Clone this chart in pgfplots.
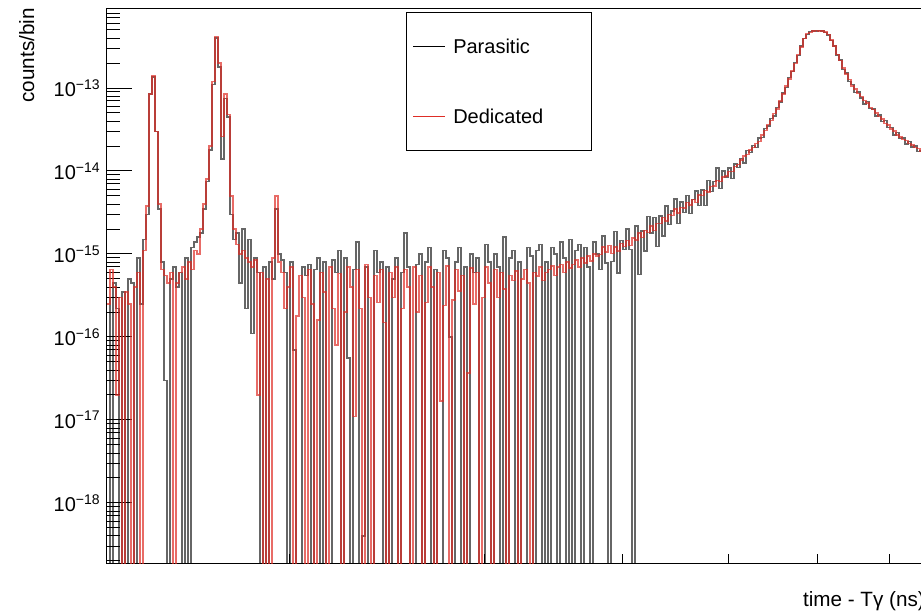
\documentclass[border=0pt]{standalone}
\usepackage{fontspec}
\setmainfont{Liberation Sans}
\usepackage{pgfplots}
\pgfplotsset{compat=1.18}
\usepackage{pgfplotstable}
\definecolor{parcol}{RGB}{0,0,0}
\definecolor{dedcol}{RGB}{222,45,38}
\newcommand\sx[1]{\raisebox{0.37em}{\fontsize{10.5}{12}\selectfont #1}}
\pgfplotstableread{
i P D
0 3.0e-16 2.5e-16
1 1e-22 6.5e-16
2 4.5e-16 4e-16
3 2.2e-16 2e-17
4 1e-22 3e-16
5 3.5e-16 1e-22
6 1e-22 3.5e-16
7 5e-16 2.5e-16
8 4.5e-16 1e-22
9 1e-22 4e-16
10 9e-16 6e-16
11 2.5e-16 1e-22
12 1.5e-15 1.1e-15
13 3.0e-15 3.8e-15
14 8.5e-14 8.5e-14
15 1.35e-13 1.4e-13
16 3.0e-14 3.0e-14
17 3.5e-15 4.0e-15
18 8e-16 6.5e-16
19 3e-17 5.5e-16
20 1e-22 4.5e-16
21 5e-16 6e-16
22 7e-16 1e-22
23 4e-16 4.5e-16
24 6e-16 6e-16
25 1e-22 7e-16
26 9e-16 5e-16
27 1e-22 8e-16
28 1.2e-15 6.5e-16
29 1.4e-15 1.1e-15
30 1.6e-15 1.0e-15
31 1.8e-15 2.0e-15
32 3.5e-15 4.0e-15
33 7.5e-15 8e-15
34 1.8e-14 2.0e-14
35 1.1e-13 1.2e-13
36 4.0e-13 4.2e-13
37 1.8e-13 2.0e-13
38 1.4e-14 2.6e-14
39 7.5e-14 8.5e-14
40 4.5e-14 4.8e-14
41 3.0e-15 5e-15
42 1.5e-15 2.0e-15
43 1.8e-15 1.3e-15
44 4.5e-16 1.0e-15
45 2.0e-15 1.1e-15
46 2.2e-16 9e-16
47 1.5e-15 8e-16
48 1.1e-16 7e-16
49 9e-16 8.5e-16
50 6e-16 2e-17
51 1e-22 6e-16
52 7e-16 1e-22
53 1e-22 5e-16
54 8e-16 1e-22
55 5e-16 9e-16
56 3.5e-15 5e-15
57 1.0e-15 8e-16
58 8.5e-16 6e-16
59 6e-16 2.2e-16
60 1e-22 4e-16
61 8e-16 7e-16
62 7e-17 1e-22
63 1e-22 1.8e-16
64 1e-22 5.5e-16
65 7e-16 3e-16
66 5.5e-16 1e-22
67 7.5e-16 6.5e-16
68 1e-22 2.5e-16
69 6.5e-16 1e-22
70 9e-16 1.6e-16
71 1e-22 6e-16
72 8e-16 3.5e-16
73 1e-22 1e-22
74 1e-22 7e-16
75 8.5e-16 2.2e-16
76 6e-16 8e-17
77 1.1e-15 5.8e-16
78 1e-22 1e-22
79 9e-16 2e-16
80 5.6e-17 7e-16
81 1e-22 4e-16
82 6.5e-16 1.1e-17
83 1.4e-15 6.5e-16
84 1e-22 2.2e-16
85 4e-19 1e-22
86 7e-16 7.5e-16
87 1e-22 3e-16
88 1e-22 1e-22
89 1.1e-15 5.5e-16
90 6e-16 2.6e-16
91 8e-16 6.5e-16
92 1e-22 1.5e-16
93 7e-16 1e-22
94 1e-22 6e-16
95 5e-16 3e-16
96 9e-16 7e-16
97 1e-22 1e-22
98 6e-16 2.2e-16
99 1.8e-15 6.5e-16
100 7e-16 4e-16
101 1e-22 1e-22
102 1e-22 7e-16
103 7.5e-16 2e-16
104 1.0e-15 5.5e-16
105 1e-22 1e-22
106 8e-16 2.6e-16
107 1.2e-15 7e-16
108 1e-22 4e-16
109 6.5e-16 1e-22
110 1e-22 6e-16
111 1e-22 1.7e-17
112 1.1e-15 2.4e-16
113 9e-16 7.2e-16
114 1e-16 1e-22
115 1e-22 2.8e-16
116 8e-16 6.5e-16
117 1.2e-15 3.6e-16
118 1e-22 5.5e-16
119 7e-16 1e-22
120 1e-22 3.7e-17
121 1.0e-15 6.8e-16
122 6e-16 2.5e-16
123 9e-16 6e-16
124 1e-22 1e-22
125 1e-22 3e-16
126 1.3e-15 7e-16
127 8e-16 4.5e-16
128 1e-22 1e-22
129 1.0e-15 6.5e-16
130 7e-16 3e-16
131 1e-22 6e-16
132 1.6e-15 3.8e-16
133 1e-22 1e-22
134 9e-16 5.5e-16
135 1.1e-15 4.8e-16
136 1e-22 6.2e-16
137 8e-16 1e-22
138 1e-22 5e-16
139 1e-22 6.5e-16
140 1.2e-15 4.5e-16
141 9.5e-16 1e-22
142 1e-22 6e-16
143 1.1e-15 5.4e-16
144 1.3e-15 7e-16
145 1e-22 4.8e-16
146 8e-16 6e-16
147 1e-22 6.5e-16
148 1.2e-15 7.2e-16
149 1.0e-15 5.5e-16
150 1e-22 7e-16
151 1.4e-15 7.5e-16
152 9e-16 6e-16
153 1e-22 8e-16
154 1.5e-15 6.8e-16
155 1e-22 7.5e-16
156 1.1e-15 8.5e-16
157 1.3e-15 7e-16
158 1e-22 9e-16
159 1.2e-15 7.8e-16
160 7e-16 9.5e-16
161 1e-22 8.2e-16
162 1.4e-15 1.0e-15
163 1.0e-15 9.4e-16
164 6.5e-16 9.8e-16
165 1.65e-15 1.21e-15
166 7.8e-16 1.06e-15
167 1e-22 1.27e-15
168 8.1e-16 1.01e-15
169 1.86e-15 1.22e-15
170 5.9e-16 1.09e-15
171 1.45e-15 1.33e-15
172 1.14e-15 1.23e-15
173 2.0e-15 1.45e-15
174 1.13e-15 1.27e-15
175 1e-22 1.55e-15
176 2.18e-15 1.48e-15
177 5.7e-16 1.79e-15
178 1.89e-15 1.58e-15
179 1.08e-15 1.91e-15
180 2.85e-15 1.82e-15
181 1.8e-15 2.18e-15
182 2.76e-15 1.93e-15
183 1.24e-15 2.34e-15
184 2.87e-15 2.32e-15
185 1.65e-15 2.74e-15
186 3.77e-15 2.5e-15
187 2.27e-15 2.98e-15
188 3.29e-15 2.93e-15
189 4.57e-15 3.47e-15
190 2.33e-15 3.13e-15
191 4.21e-15 3.62e-15
192 3.15e-15 3.59e-15
193 5.07e-15 4.17e-15
194 3.08e-15 3.9e-15
195 4.56e-15 4.51e-15
196 5.71e-15 4.2e-15
197 3.86e-15 5.11e-15
198 5.92e-15 5.05e-15
199 3.86e-15 5.79e-15
200 7.67e-15 5.55e-15
201 5.68e-15 6.5e-15
202 7.44e-15 6.56e-15
203 1.08e-14 7.66e-15
204 6.19e-15 7.43e-15
205 9.94e-15 8.45e-15
206 8.43e-15 8.69e-15
207 1.09e-14 9.89e-15
208 8.16e-15 9.89e-15
209 1.22e-14 1.13e-14
210 1.1e-14 1.2e-14
211 1.41e-14 1.35e-14
212 1.25e-14 1.51e-14
213 1.77e-14 1.58e-14
214 1.67e-14 1.8e-14
215 2.03e-14 1.91e-14
216 1.91e-14 2.14e-14
217 2.51e-14 2.27e-14
218 2.54e-14 2.72e-14
219 3.24e-14 3.06e-14
220 3.47e-14 3.62e-14
221 4.32e-14 4.07e-14
222 4.62e-14 4.91e-14
223 5.79e-14 5.56e-14
224 6.78e-14 6.99e-14
225 8.7e-14 8.44e-14
226 1.02e-13 1.06e-13
227 1.33e-13 1.28e-13
228 1.57e-13 1.61e-13
229 2.02e-13 1.98e-13
230 2.46e-13 2.54e-13
231 3.21e-13 3.12e-13
232 3.95e-13 3.95e-13
233 4.43e-13 4.51e-13
234 4.78e-13 4.68e-13
235 4.84e-13 4.89e-13
236 4.85e-13 4.9e-13
237 4.95e-13 4.85e-13
238 4.84e-13 4.89e-13
239 4.68e-13 4.73e-13
240 4.37e-13 4.41e-13
241 3.72e-13 3.8e-13
242 3.22e-13 3.19e-13
243 2.5e-13 2.55e-13
244 2.17e-13 2.13e-13
245 1.67e-13 1.74e-13
246 1.51e-13 1.47e-13
247 1.19e-13 1.26e-13
248 1.1e-13 1.06e-13
249 8.84e-14 9.7e-14
250 8.91e-14 8.56e-14
251 7.61e-14 7.93e-14
252 6.43e-14 7.07e-14
253 6.83e-14 6.63e-14
254 5.7e-14 5.82e-14
255 5.6e-14 5.49e-14
256 4.58e-14 4.98e-14
257 4.74e-14 4.51e-14
258 3.96e-14 4.25e-14
259 4.07e-14 3.76e-14
260 3.32e-14 3.57e-14
261 3.32e-14 3.22e-14
262 2.72e-14 3.05e-14
263 2.89e-14 2.7e-14
264 2.45e-14 2.58e-14
265 2.49e-14 2.4e-14
266 2.11e-14 2.34e-14
267 2.26e-14 2.13e-14
268 1.95e-14 2.07e-14
269 2.01e-14 1.93e-14
270 1.71e-14 1.86e-14
271 1.77e-14 1.72e-14
272 1.58e-14 1.67e-14
273 1.58e-14 1.67e-14
}\hist
\begin{document}
\begin{tikzpicture}
\begin{axis}[
  scale only axis, width=613.5pt, height=416.25pt,
  xmin=0, xmax=272.67,
  ymode=log, ymin=1.89e-19, ymax=9.2e-13,
  axis line style={line width=0.75pt},
  every tick/.append style={line width=0.75pt, black},
  tick align=inside, tick pos=left,
  xtick={61,126,171.67,207.33,236.67,261},
  xticklabels={},
  xtick style={/pgfplots/major tick length=6.75pt},
  ytick={1e-18,1e-17,1e-16,1e-15,1e-14,1e-13},
  yticklabels={10\sx{−18},10\sx{−17},10\sx{−16},10\sx{−15},10\sx{−14},10\sx{−13}},
  minor ytick={2e-19,3e-19,4e-19,5e-19,6e-19,7e-19,8e-19,9e-19,
    2e-18,3e-18,4e-18,5e-18,6e-18,7e-18,8e-18,9e-18,
    2e-17,3e-17,4e-17,5e-17,6e-17,7e-17,8e-17,9e-17,
    2e-16,3e-16,4e-16,5e-16,6e-16,7e-16,8e-16,9e-16,
    2e-15,3e-15,4e-15,5e-15,6e-15,7e-15,8e-15,9e-15,
    2e-14,3e-14,4e-14,5e-14,6e-14,7e-14,8e-14,9e-14,
    2e-13,3e-13,4e-13,5e-13,6e-13,7e-13,8e-13,9e-13},
  ytick style={/pgfplots/major tick length=19pt, /pgfplots/minor tick length=9.5pt},
  yticklabel style={font=\fontsize{15}{18}\selectfont, inner sep=0pt, xshift=-5.25pt},
  xlabel={time - Tγ (ns)},
  xlabel style={at={(rel axis cs:1,-0.07748)}, anchor=base east, inner sep=0pt, font=\fontsize{15.5}{18}\selectfont},
  ylabel={counts/bin},
  ylabel style={at={(rel axis cs:-0.08924,1)}, anchor=base east, inner sep=0pt, font=\fontsize{15.5}{18}\selectfont},
]
\coordinate (O) at (rel axis cs:0,0);
\addplot[const plot mark left, draw=parcol, draw opacity=0.6, line width=1.1pt] table[x=i, y=P] {\hist};
\addplot[const plot mark left, draw=dedcol, draw opacity=0.7, line width=1.1pt] table[x=i, y=D] {\hist};
\draw[line width=0.75pt, fill=white] (rel axis cs:0.3667,0.7441) rectangle (rel axis cs:0.5929,0.9928);
\draw[parcol, line width=0.75pt] (rel axis cs:0.3741,0.9315) -- (rel axis cs:0.4132,0.9315);
\node[anchor=west, inner sep=0pt, font=\fontsize{15}{18}\selectfont] at (rel axis cs:0.4230,0.9315) {Parasitic};
\draw[dedcol, line width=0.75pt] (rel axis cs:0.3741,0.8054) -- (rel axis cs:0.4132,0.8054);
\node[anchor=west, inner sep=0pt, font=\fontsize{15}{18}\selectfont] at (rel axis cs:0.4230,0.8054) {Dedicated};
\end{axis}
\pgfresetboundingbox
\path[use as bounding box] ([shift={(-80.25pt,-36pt)}]O) rectangle ([shift={(610.5pt,422.25pt)}]O);
\end{tikzpicture}
\end{document}
